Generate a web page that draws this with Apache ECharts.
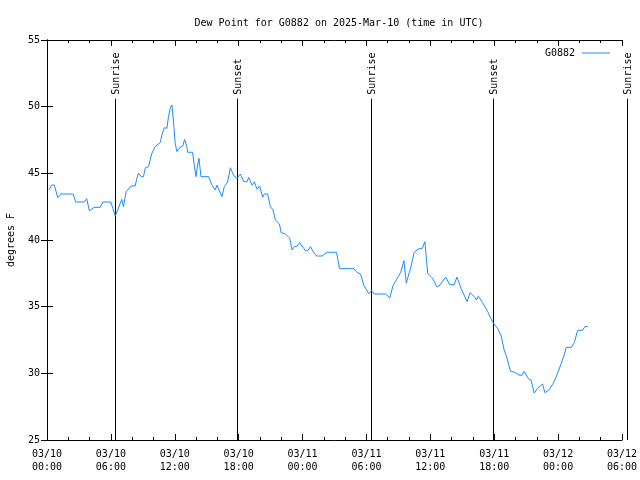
<!DOCTYPE html>
<html><head><meta charset="utf-8">
<script src="https://cdn.jsdelivr.net/npm/echarts@6/dist/echarts.min.js"></script>
<style>html,body{margin:0;padding:0;background:#fff}#c{width:640px;height:480px}</style>
</head><body><div id="c"></div>
<script>
// hours since 2025-03-10 00:00 UTC
const hours = [0.19,0.44,0.69,1.01,1.32,2.45,2.70,3.51,3.73,3.98,4.42,4.99,5.24,5.99,6.24,6.40,6.65,6.87,7.03,7.18,7.43,7.90,8.28,8.44,8.59,8.84,9.06,9.22,9.53,9.85,10.16,10.63,10.79,11.01,11.26,11.41,11.57,11.73,11.88,12.04,12.20,12.45,12.77,12.92,13.14,13.20,13.67,13.83,13.99,14.14,14.27,14.46,15.17,15.49,15.80,15.96,16.43,16.65,16.96,17.22,17.53,17.85,18.16,18.47,18.79,18.94,19.26,19.47,19.73,19.97,20.25,20.41,20.72,20.98,21.23,21.45,21.83,21.99,22.39,22.79,23.02,23.24,23.49,23.73,24.05,24.27,24.49,24.74,25.00,25.31,25.84,26.31,27.19,27.31,27.47,28.81,29.12,29.45,29.76,30.23,30.48,30.73,31.80,32.20,32.50,32.90,33.21,33.52,33.74,34.15,34.48,34.85,35.25,35.49,35.75,36.22,36.59,36.83,37.44,37.79,38.22,38.50,38.88,39.46,39.73,40.17,40.33,40.50,40.89,41.39,41.86,42.31,42.65,42.93,43.18,43.53,43.98,44.34,44.61,44.81,45.20,45.47,45.75,46.07,46.54,46.76,47.16,47.63,48.10,48.54,48.76,49.25,49.53,49.83,50.30,50.52,50.77];
const dewF = [43.75,44.12,44.12,43.17,43.45,43.45,42.85,42.85,43.10,42.18,42.45,42.45,42.85,42.85,42.25,41.80,42.25,42.75,43.05,42.50,43.62,44.05,44.05,44.63,45.00,44.75,44.75,45.38,45.50,46.50,47.00,47.30,47.88,48.42,48.38,49.25,49.88,50.12,48.87,47.25,46.62,46.92,47.07,47.55,47.00,46.58,46.58,45.62,44.75,45.62,46.13,44.75,44.75,44.12,43.75,44.12,43.25,44.00,44.33,45.42,44.84,44.63,44.95,44.37,44.37,44.70,44.12,44.37,43.80,44.05,43.20,43.45,43.45,42.50,42.25,41.50,41.20,40.55,40.45,40.13,39.25,39.50,39.55,39.80,39.45,39.20,39.20,39.50,39.12,38.80,38.80,39.08,39.08,38.55,37.85,37.85,37.56,37.45,36.59,35.97,36.21,35.95,35.95,35.66,36.59,37.13,37.56,38.45,36.77,37.90,39.06,39.32,39.38,39.87,37.50,37.13,36.51,36.55,37.22,36.68,36.62,37.22,36.38,35.37,36.05,35.72,35.50,35.78,35.33,34.62,33.83,33.38,32.81,31.75,31.19,30.16,30.06,29.86,29.86,30.15,29.61,29.48,28.52,28.88,29.20,28.55,28.77,29.37,30.32,31.30,31.95,31.95,32.31,33.23,33.23,33.51,33.51];
const sunHours = [6.40, 17.85, 30.41, 41.90, 54.44];
const sunLabels = ['Sunrise', 'Sunset', 'Sunrise', 'Sunset', 'Sunrise'];
const xTickLabels = ['03/10\n00:00','03/10\n06:00','03/10\n12:00','03/10\n18:00','03/11\n00:00','03/11\n06:00','03/11\n12:00','03/11\n18:00','03/12\n00:00','03/12\n06:00'];
const seriesName = 'G0882';
const titleText = 'Dew Point for G0882 on 2025-Mar-10 (time in UTC)';
const yName = 'degrees F';

const FONT = 'DejaVu Sans Mono';
const LINE_COLOR = '#1a8cff';
const chart = echarts.init(document.getElementById('c'), null, {renderer: 'canvas'});
const axisCommon = {
  axisLine: {show: true, lineStyle: {color: '#000', width: 1}},
  axisTick: {show: true, inside: true, length: 6, lineStyle: {color: '#000'}},
  splitLine: {show: false},
  axisLabel: {color: '#000', fontFamily: FONT, fontSize: 10}
};
chart.setOption({
  animation: false,
  backgroundColor: '#fff',
  title: {text: titleText, left: 334, top: 13, textAlign: 'center',
    textStyle: {fontFamily: FONT, fontSize: 10, fontWeight: 'normal', color: '#000'}},
  legend: {data: [{name: seriesName, icon: 'rect'}], right: 25, top: 43, align: 'right',
    itemWidth: 28, itemHeight: 1,
    textStyle: {fontFamily: FONT, fontSize: 10, color: '#000', padding: [0, 2, 0, 0]}},
  grid: {left: 47, right: 18, top: 40, bottom: 40, containLabel: false, outerBoundsMode: 'none'},
  xAxis: [
    Object.assign({}, axisCommon, {type: 'value', min: 0, max: 54, interval: 6,
      minorTick: {show: true, splitNumber: 3, length: 3, lineStyle: {color: '#000'}},
      axisLabel: Object.assign({}, axisCommon.axisLabel, {margin: 8, lineHeight: 13,
        formatter: v => xTickLabels[Math.round(v / 6)] || ''})}),
    Object.assign({}, axisCommon, {type: 'value', position: 'top', min: 0, max: 54, interval: 6,
      minorTick: {show: true, splitNumber: 3, length: 3, lineStyle: {color: '#000'}},
      axisLabel: {show: false}})
  ],
  yAxis: [
    Object.assign({}, axisCommon, {type: 'value', min: 25, max: 55, interval: 5,
      name: yName, nameLocation: 'middle', nameGap: 31, nameRotate: 90,
      nameTextStyle: {fontFamily: FONT, fontSize: 10, color: '#000'},
      axisLabel: Object.assign({}, axisCommon.axisLabel, {margin: 7})}),
    Object.assign({}, axisCommon, {type: 'value', position: 'right', min: 25, max: 55, interval: 5,
      axisLabel: {show: false}})
  ],
  series: [
    {name: seriesName, type: 'line', xAxisIndex: 0, yAxisIndex: 0, symbol: 'none',
      color: LINE_COLOR, itemStyle: {color: LINE_COLOR}, lineStyle: {width: 1, color: LINE_COLOR},
      data: hours.map((h, i) => [h, dewF[i]])},
    {name: 'sun', type: 'custom', xAxisIndex: 0, yAxisIndex: 0, clip: false, silent: true,
      data: sunHours.map((h, i) => [h, 40, i]),
      encode: {x: 0, y: 1},
      renderItem: function (params, api) {
        const h = api.value(0);
        const bot = api.coord([h, 25]);
        const top = api.coord([h, 50.6]);
        const txt = api.coord([h, 50.9]);
        const x = Math.round(bot[0]) + 0.5;
        return {type: 'group', children: [
          {type: 'line', shape: {x1: x, y1: bot[1], x2: x, y2: top[1]},
            style: {stroke: '#000', lineWidth: 1}},
          {type: 'text', x: x + 1, y: txt[1], rotation: Math.PI / 2,
            style: {text: sunLabels[api.value(2)], fontFamily: FONT, fontSize: 10,
              align: 'left', verticalAlign: 'middle', fill: '#000'}}
        ]};
      }}
  ]
});
</script></body></html>
